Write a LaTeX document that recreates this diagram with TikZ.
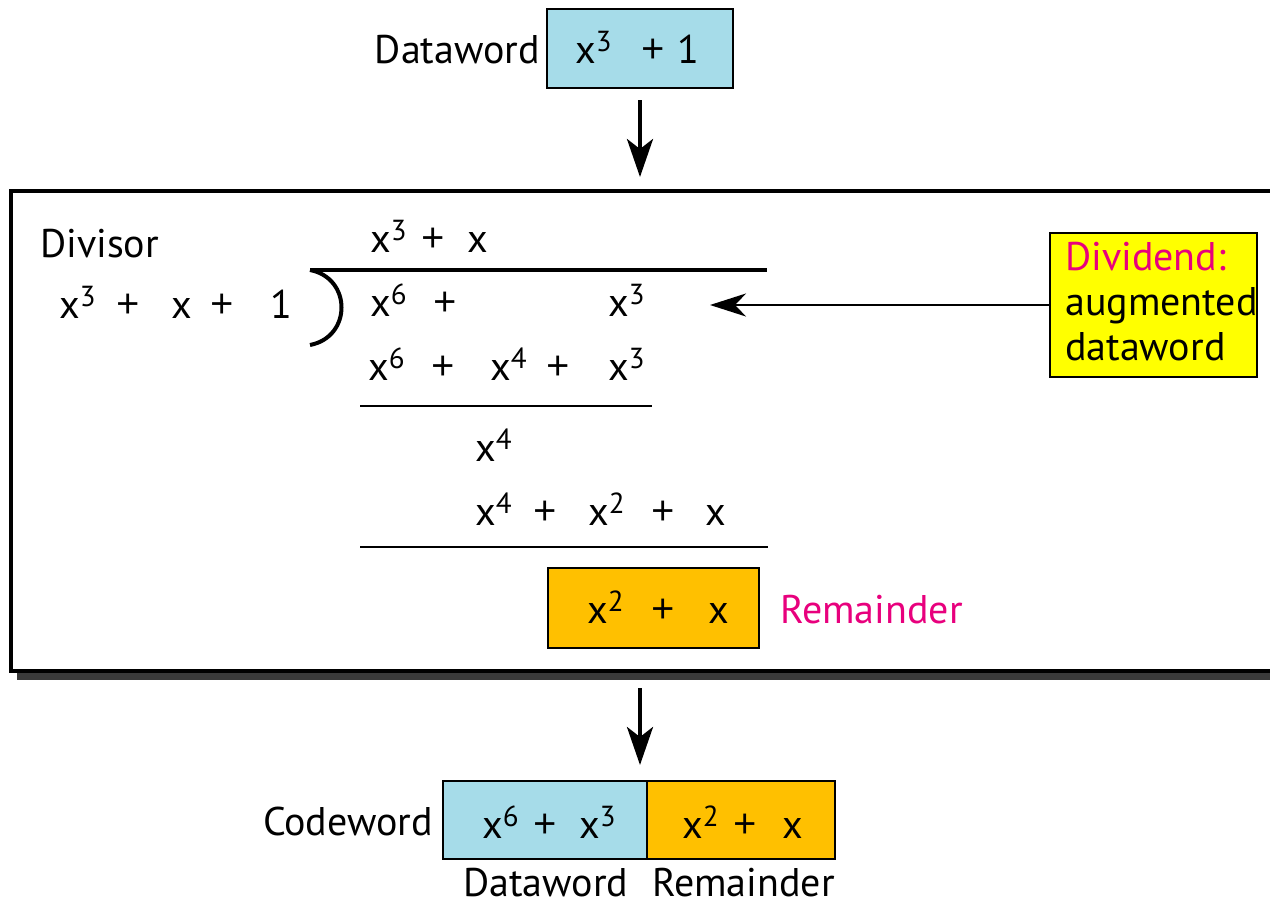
\documentclass[tikz,border=0pt]{standalone}
\usepackage{fontspec}
\setmainfont{PT Sans}
\newfontfamily\plusfont{Open Sans}
\usetikzlibrary{arrows.meta}
\definecolor{cblue}{HTML}{A6DCE9}
\definecolor{corange}{HTML}{FFC000}
\definecolor{cyellow}{HTML}{FFFF00}
\definecolor{cmag}{HTML}{E8007D}
\definecolor{cshadow}{HTML}{3A3A3A}
\newcommand\mainsz{\fontsize{40}{48}\selectfont}
\newcommand\xp[1]{x\raisebox{12pt}{\fontsize{29}{29}\selectfont #1}}
\newcommand\pl{{\plusfont\fontsize{41}{48}\selectfont +}}
\tikzset{
  term/.style={anchor=base west, inner sep=0pt, font=\mainsz},
  termr/.style={anchor=base east, inner sep=0pt, font=\mainsz},
  boxnode/.style={draw, line width=2.5pt, inner sep=0pt, minimum width=#1},
  bigarr/.style={line width=4pt, -{Stealth[length=38pt,width=26pt,inset=10pt]}},
  smallarr/.style={line width=2.5pt, -{Stealth[length=36pt,width=23pt,inset=11pt]}},
  rule/.style={line width=2.5pt},
}
\begin{document}
\begin{tikzpicture}[x=1pt,y=-1pt]
\useasboundingbox (0,0) rectangle (1270,905);
% ---------- top dataword
\node[boxnode=186pt, minimum height=79pt, fill=cblue] (dwbox) at (640,48.5) {};
\node[termr] (dwlbl) at (540,63) {Dataword};
\node[term] (dwa) at (575,63) {\xp{3}};
\node[term] (dwb) at (641,63) {\pl};
\node[term] (dwc) at (677,63) {1};
% ---------- big box with shadow
\fill[cshadow] (17,200) rectangle (1290,680);
\node[draw, line width=3.5pt, fill=white, minimum width=1279pt, minimum height=480pt, inner sep=0pt] (bigbox) at (650.5,431) {};
\coordinate (a1s) at (640,100);
\coordinate (a1e) at (640,177);
\draw[bigarr] (a1s) -- (a1e);
% ---------- divisor
\node[term] (divlbl) at (40,257) {Divisor};
\node[term] (d1) at (59,318) {\xp{3}};
\node[term] (d2) at (116,318) {\pl};
\node[term] (d3) at (171,318) {x};
\node[term] (d4) at (210,318) {\pl};
\node[term] (d5) at (270,318) {1};
\coordinate (arcA) at (310,270);
\coordinate (arcB) at (310,345);
\coordinate (topR) at (767,270);
\draw[line width=4pt] (arcA) .. controls (352,278) and (352,337) .. (arcB);
\draw[line width=3.5pt] (arcA) -- (topR);
% ---------- quotient
\node[term] (q1) at (370,252) {\xp{3}};
\node[term] (q2) at (421,252) {\pl};
\node[term] (q3) at (467,252) {x};
% ---------- row 2
\node[term] (r2a) at (370,316) {\xp{6}};
\node[term] (r2b) at (433,316) {\pl};
\node[term] (r2c) at (608,316) {\xp{3}};
% ---------- row 3
\node[term] (r3a) at (368,380) {\xp{6}};
\node[term] (r3b) at (431,380) {\pl};
\node[term] (r3c) at (490,380) {\xp{4}};
\node[term] (r3d) at (546,380) {\pl};
\node[term] (r3e) at (608,380) {\xp{3}};
\coordinate (l1a) at (360,406);
\coordinate (l1b) at (652,406);
\draw[rule] (l1a) -- (l1b);
% ---------- row 4, 5
\node[term] (r4a) at (475,461) {\xp{4}};
\node[term] (r5a) at (475,525) {\xp{4}};
\node[term] (r5b) at (533,525) {\pl};
\node[term] (r5c) at (588,525) {\xp{2}};
\node[term] (r5d) at (651,525) {\pl};
\node[term] (r5e) at (705,525) {x};
\coordinate (l2a) at (360,547);
\coordinate (l2b) at (768,547);
\draw[rule] (l2a) -- (l2b);
% ---------- remainder
\node[boxnode=211pt, minimum height=80pt, fill=corange] (rembox) at (653.5,608) {};
\node[term] (rm1) at (587,623) {\xp{2}};
\node[term] (rm2) at (651,623) {\pl};
\node[term] (rm3) at (708,623) {x};
\node[term, text=cmag] (remlbl) at (780,623) {Remainder};
% ---------- dividend note
\node[draw, line width=1.5pt, fill=cyellow, minimum width=207pt, minimum height=144pt, inner sep=0pt] (ybox) at (1153.5,305) {};
\node[term, text=cmag] (yl1) at (1065,270) {Dividend:};
\node[term] (yl2) at (1065,315) {augmented};
\node[term] (yl3) at (1065,360) {dataword};
\coordinate (dvtip) at (710,305);
\draw[smallarr] (ybox.west) -- (dvtip);
% ---------- arrow down
\coordinate (a2s) at (640,688);
\coordinate (a2e) at (640,765);
\draw[bigarr] (a2s) -- (a2e);
% ---------- codeword
\node[boxnode=204pt, minimum height=78pt, fill=cblue] (cwblue) at (545,820) {};
\node[boxnode=188pt, minimum height=78pt, fill=corange] (cworange) at (741,820) {};
\node[termr] (cwlbl) at (433,835) {Codeword};
\node[term] (c1) at (482,838) {\xp{6}};
\node[term] (c2) at (533,838) {\pl};
\node[term] (c3) at (579,838) {\xp{3}};
\node[term] (c4) at (682,838) {\xp{2}};
\node[term] (c5) at (733,838) {\pl};
\node[term] (c6) at (782,838) {x};
\node[term] (cwdl) at (463,896) {Dataword};
\node[term] (cwrl) at (652,896) {Remainder};
\end{tikzpicture}
\end{document}
